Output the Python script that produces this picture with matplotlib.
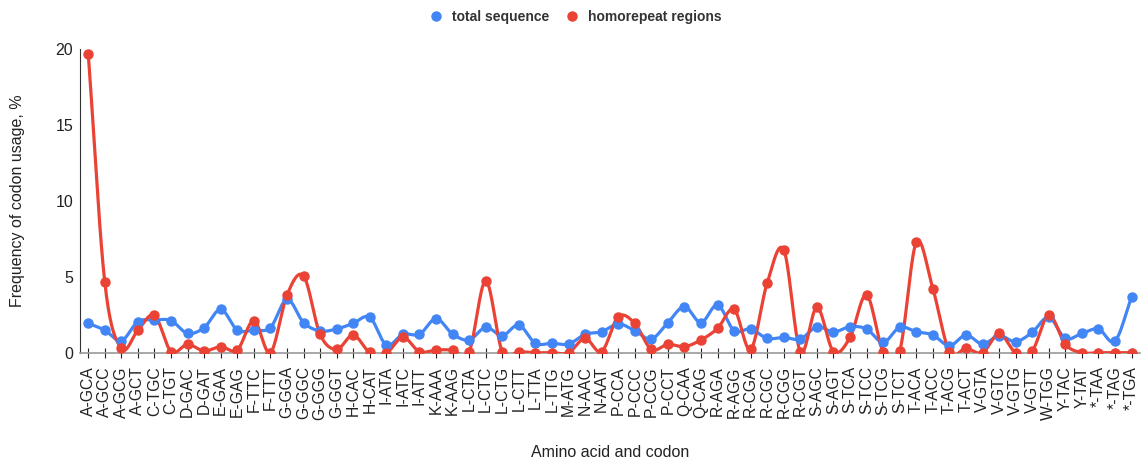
import matplotlib
matplotlib.use("Agg")
import matplotlib.pyplot as plt
import numpy as np

plt.rcParams['font.family'] = ['Liberation Sans', 'DejaVu Sans']

# codon labels (amino acid - codon)
codons = [
    'A-GCA', 'A-GCC', 'A-GCG', 'A-GCT', 'C-TGC', 'C-TGT', 'D-GAC', 'D-GAT',
    'E-GAA', 'E-GAG', 'F-TTC', 'F-TTT', 'G-GGA', 'G-GGC', 'G-GGG', 'G-GGT',
    'H-CAC', 'H-CAT', 'I-ATA', 'I-ATC', 'I-ATT', 'K-AAA', 'K-AAG', 'L-CTA',
    'L-CTC', 'L-CTG', 'L-CTT', 'L-TTA', 'L-TTG', 'M-ATG', 'N-AAC', 'N-AAT',
    'P-CCA', 'P-CCC', 'P-CCG', 'P-CCT', 'Q-CAA', 'Q-CAG', 'R-AGA', 'R-AGG',
    'R-CGA', 'R-CGC', 'R-CGG', 'R-CGT', 'S-AGC', 'S-AGT', 'S-TCA', 'S-TCC',
    'S-TCG', 'S-TCT', 'T-ACA', 'T-ACC', 'T-ACG', 'T-ACT', 'V-GTA', 'V-GTC',
    'V-GTG', 'V-GTT', 'W-TGG', 'Y-TAC', 'Y-TAT', '*-TAA', '*-TAG', '*-TGA',
]

# codon usage in the whole sequence, %
total_seq = [
    1.95, 1.50, 0.81, 2.06, 2.17, 2.13, 1.29, 1.67,
    2.87, 1.51, 1.51, 1.67, 3.53, 2.00, 1.45, 1.58,
    1.95, 2.35, 0.53, 1.23, 1.23, 2.26, 1.25, 0.86,
    1.69, 1.14, 1.84, 0.64, 0.64, 0.59, 1.23, 1.40,
    1.91, 1.47, 0.92, 2.00, 3.05, 2.00, 3.16, 1.47,
    1.58, 0.96, 1.03, 0.92, 1.73, 1.38, 1.73, 1.58,
    0.70, 1.69, 1.40, 1.18, 0.48, 1.18, 0.59, 1.14,
    0.75, 1.36, 2.35, 0.96, 1.29, 1.58, 0.79, 3.70,
]

# codon usage inside homorepeat regions, %
homorepeat = [
    19.70, 4.65, 0.30, 1.50, 2.48, 0.09, 0.57, 0.13,
    0.42, 0.20, 2.13, 0.02, 3.82, 5.07, 1.23, 0.24,
    1.18, 0.04, 0.00, 1.03, 0.09, 0.20, 0.20, 0.09,
    4.74, 0.09, 0.09, 0.02, 0.02, 0.02, 0.96, 0.09,
    2.39, 1.95, 0.24, 0.57, 0.42, 0.86, 1.62, 2.87,
    0.24, 4.63, 6.78, 0.09, 3.00, 0.09, 1.03, 3.82,
    0.09, 0.15, 7.28, 4.23, 0.09, 0.30, 0.02, 1.29,
    0.02, 0.15, 2.50, 0.57, 0.02, 0.02, 0.02, 0.02,
]

BLUE = '#4285F4'
RED = '#EA4335'


def smooth(xs, ys, n=20, k=0.5):
    # cardinal spline through the points, drawn as cubic bezier pieces
    xs = np.asarray(xs, float)
    ys = np.asarray(ys, float)
    px, py = [], []
    t = np.linspace(0, 1, n)
    for i in range(len(xs) - 1):
        i0 = max(i - 1, 0)
        i3 = min(i + 2, len(xs) - 1)
        m1 = k * (ys[i + 1] - ys[i0]) / (xs[i + 1] - xs[i0])
        m2 = k * (ys[i3] - ys[i]) / (xs[i3] - xs[i])
        dx = xs[i + 1] - xs[i]
        c1 = ys[i] + m1 * dx * 2 / 3
        c2 = ys[i + 1] - m2 * dx * 2 / 3
        x = xs[i] + dx * t
        y = ((1 - t) ** 3 * ys[i] + 3 * (1 - t) ** 2 * t * c1
             + 3 * (1 - t) * t ** 2 * c2 + t ** 3 * ys[i + 1])
        px.extend(x)
        py.extend(y)
    return np.array(px), np.array(py)


x = np.arange(len(codons))

fig = plt.figure(figsize=(11.44, 4.63), dpi=100)
ax = fig.add_axes([0.0699, 0.2376, 0.9265, 0.6564])

for vals, col, name in [(total_seq, BLUE, 'total sequence'),
                        (homorepeat, RED, 'homorepeat regions')]:
    sx, sy = smooth(x, vals)
    ax.plot(sx, sy, color=col, lw=2.3, solid_capstyle='round', zorder=3)
    ax.plot(x, vals, 'o', color=col, ms=6.5, zorder=4, label=name)

ax.set_xlim(-0.5, len(codons) - 0.5)
ax.set_ylim(0, 20)
ax.set_yticks([0, 5, 10, 15, 20])
ax.set_xticks(x)
ax.set_xticklabels(codons, rotation=90, fontsize=11.3, color='#222222')
ax.tick_params(axis='y', length=0, labelsize=11.5, labelcolor='#222222', pad=5)
ax.tick_params(axis='x', direction='inout', length=7, width=0.8, color='#222222', pad=6)

for s in ['top', 'right']:
    ax.spines[s].set_visible(False)
ax.spines['left'].set_color('#333333')
ax.spines['bottom'].set_color('#999999')
ax.spines['bottom'].set_linewidth(1.2)

ax.set_xlabel('Amino acid and codon', fontsize=11.5, color='#222222', labelpad=18)
ax.set_ylabel('Frequency of codon usage, %', fontsize=11.5, color='#222222', labelpad=22)

leg = fig.legend(loc='upper center', bbox_to_anchor=(0.5, 1.005), ncol=2,
                 frameon=False, handletextpad=0.15, columnspacing=0.6,
                 prop={'weight': 'bold', 'size': 10})
for t in leg.get_texts():
    t.set_color('#333333')

fig.savefig('out.png', dpi=100)
